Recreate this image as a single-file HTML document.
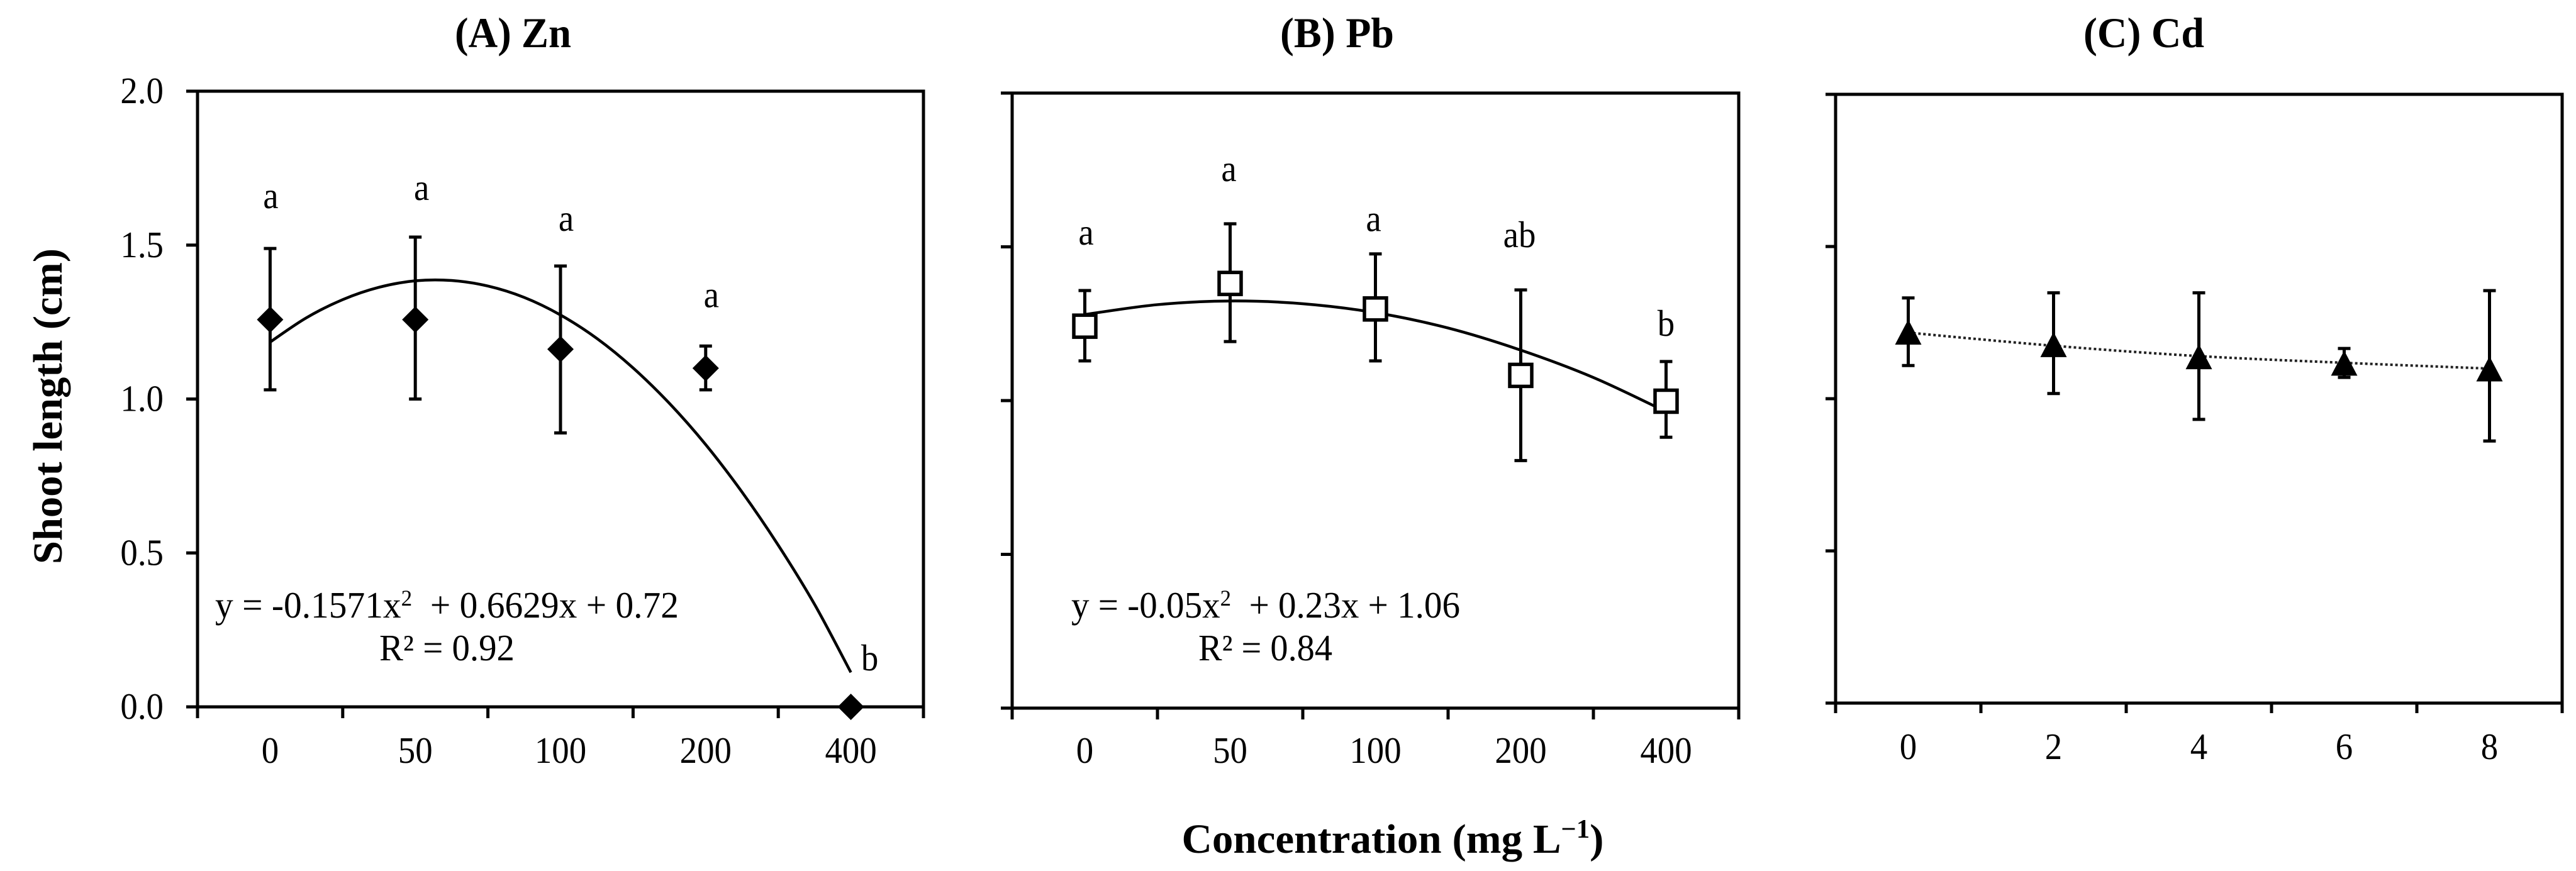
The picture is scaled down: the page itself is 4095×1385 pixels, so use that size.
<!DOCTYPE html>
<html lang="en">
<head>
<meta charset="utf-8">
<title>Shoot length vs concentration</title>
<style>
html,body{margin:0;padding:0;background:#fff;width:4095px;height:1385px;overflow:hidden}
svg{display:block}
text{font-family:"Liberation Serif","Times New Roman",serif;fill:#000}
.title{font-weight:bold;font-size:68px;text-anchor:middle}
.axt{font-weight:bold;font-size:66px;text-anchor:middle}
.tick{font-size:59px}
.note{font-size:59px}
</style>
</head>
<body>
<svg id="chart" xmlns="http://www.w3.org/2000/svg" width="4095" height="1385" viewBox="0 0 4095 1385">
  <rect x="0" y="0" width="4095" height="1385" fill="#fff"/>
  <text class="title" x="815.5" y="75" textLength="185" lengthAdjust="spacingAndGlyphs">(A) Zn</text>
  <text class="title" x="2125.5" y="75" textLength="181" lengthAdjust="spacingAndGlyphs">(B) Pb</text>
  <text class="title" x="3408" y="75" textLength="192" lengthAdjust="spacingAndGlyphs">(C) Cd</text>
  <text class="axt" transform="translate(98,646) rotate(-90)" textLength="502" lengthAdjust="spacingAndGlyphs">Shoot length (cm)</text>
  <text class="axt" x="2214" y="1356" textLength="671" lengthAdjust="spacingAndGlyphs">Concentration (mg L<tspan font-size="42" dy="-24">−1</tspan><tspan dy="24">)</tspan></text>
  <text class="note" x="342" y="982" textLength="737" lengthAdjust="spacingAndGlyphs">y = -0.1571x<tspan font-size="36" dy="-19">2</tspan><tspan dy="19">&#160;&#160;+ 0.6629x + 0.72</tspan></text>
  <text class="note" x="603" y="1050" textLength="215" lengthAdjust="spacingAndGlyphs">R² = 0.92</text>
  <text class="note" x="1703" y="982" textLength="618" lengthAdjust="spacingAndGlyphs">y = -0.05x<tspan font-size="36" dy="-19">2</tspan><tspan dy="19">&#160;&#160;+ 0.23x + 1.06</tspan></text>
  <text class="note" x="1905" y="1050" textLength="213" lengthAdjust="spacingAndGlyphs">R² = 0.84</text>
</svg>
<script>
// ---- data ----
const yTickValues = [0, 0.5, 1, 1.5, 2];
const yTickLabels = ['0.0', '0.5', '1.0', '1.5', '2.0'];

const znCategories = ['0', '50', '100', '200', '400'];
const znMeans = [1.258, 1.258, 1.162, 1.10, 0];
const znUpper = [1.489, 1.526, 1.432, 1.172, 0];
const znLower = [1.03, 1.0, 0.89, 1.03, 0];
const znLetters = ['a', 'a', 'a', 'a', 'b'];
const znFitPositions = [0, 0.25, 0.5, 0.75, 1, 1.25, 1.5, 1.75, 2, 2.25, 2.5, 2.75, 3, 3.25, 3.5, 3.75, 4];
const znFitValues = [1.185, 1.264, 1.323, 1.363, 1.384, 1.385, 1.367, 1.330, 1.273, 1.197, 1.101, 0.986, 0.852, 0.698, 0.525, 0.333, 0.112];

const pbCategories = ['0', '50', '100', '200', '400'];
const pbMeans = [1.242, 1.381, 1.298, 1.082, 0.998];
const pbUpper = [1.358, 1.575, 1.477, 1.36, 1.127];
const pbLower = [1.129, 1.192, 1.129, 0.805, 0.881];
const pbLetters = ['a', 'a', 'a', 'ab', 'b'];
const pbFitPositions = [0, 0.5, 1, 1.5, 2, 2.5, 3, 3.5, 4];
const pbFitValues = [1.28, 1.312, 1.324, 1.315, 1.286, 1.236, 1.164, 1.075, 0.964];

const cdCategories = ['0', '2', '4', '6', '8'];
const cdMeans = [1.217, 1.176, 1.136, 1.115, 1.096];
const cdUpper = [1.331, 1.348, 1.348, 1.165, 1.355];
const cdLower = [1.109, 1.017, 0.932, 1.07, 0.861];
const cdFitPositions = [0, 1, 2, 3, 4];
const cdFitValues = [1.217, 1.174, 1.14, 1.118, 1.099];

// ---- layout ----
const svg = document.getElementById('chart');
const NS = 'http://www.w3.org/2000/svg';
const GLYPH_SQUEEZE = 0.93;
const layoutA = {id: 'panel-a', left: 314, right: 1468, top: 145, bottom: 1124, tickLen: 18, xLabelY: 1213, showY: true,
  letterDx: [1, 10, 9, 9, 30], letterDy: [-64, -59, -56, -62, -58]};
const layoutB = {id: 'panel-b', left: 1609, right: 2764, top: 148, bottom: 1126, tickLen: 18, xLabelY: 1213, showY: false,
  letterDx: [2, -2, -3, -2, 0], letterDy: [-73, -68, -36, -68, -41]};
const layoutC = {id: 'panel-c', left: 2918, right: 4073, top: 150, bottom: 1118, tickLen: 16, xLabelY: 1207, showY: false};

function make(tag, attrs) {
  const n = document.createElementNS(NS, tag);
  for (const k in attrs) n.setAttribute(k, attrs[k]);
  svg.appendChild(n);
  return n;
}
function xScale(p, pos, count) { return p.left + (p.right - p.left) * (pos + 0.5) / count; }
function yScale(p, v) { return p.bottom - (p.bottom - p.top) * v / 2; }
function seg(x1, y1, x2, y2, w) {
  return make('line', {x1: x1, y1: y1, x2: x2, y2: y2, stroke: '#000', 'stroke-width': w});
}
function label(x, y, anchor, cls) {
  return make('text', {transform: 'translate(' + x + ',' + y + ') scale(' + GLYPH_SQUEEZE + ',1)', 'text-anchor': anchor, 'class': cls});
}
function smoothPath(pts) {
  let d = 'M' + pts[0][0] + ' ' + pts[0][1];
  for (let i = 0; i < pts.length - 1; i++) {
    const a = pts[Math.max(i - 1, 0)], b = pts[i], c = pts[i + 1], e = pts[Math.min(i + 2, pts.length - 1)];
    d += ' C' + (b[0] + (c[0] - a[0]) / 6) + ' ' + (b[1] + (c[1] - a[1]) / 6) + ' ' +
         (c[0] - (e[0] - b[0]) / 6) + ' ' + (c[1] - (e[1] - b[1]) / 6) + ' ' + c[0] + ' ' + c[1];
  }
  return d;
}
function drawAxes(p, cats) {
  const frame = make('rect', {x: p.left, y: p.top, width: p.right - p.left, height: p.bottom - p.top, fill: 'none', stroke: '#000', 'stroke-width': 5});
  
  
  yTickValues.forEach(function (v, i) {
    const y = yScale(p, v);
    const t = seg(p.left - p.tickLen, y, p.left, y, 5);
    
    
    if (p.showY) {
      const l = label(260, y + 19, 'end', 'tick');
      l.textContent = yTickLabels[i];
      
      
    }
  });
  for (let i = 0; i <= cats.length; i++) {
    const x = xScale(p, i - 0.5, cats.length);
    const t = seg(x, p.bottom, x, p.bottom + p.tickLen, 5);
    
    
  }
  cats.forEach(function (c, i) {
    const l = label(xScale(p, i, cats.length), p.xLabelY, 'middle', 'tick');
    l.textContent = c;
    
    
  });
}
function drawErrors(p, cats, upper, lower) {
  cats.forEach(function (c, i) {
    const x = xScale(p, i, cats.length), t = yScale(p, upper[i]), b = yScale(p, lower[i]);
    const bar = seg(x, t, x, b, 5);
    
    
    const capT = seg(x - 10, t, x + 10, t, 5);
    
    
    const capB = seg(x - 10, b, x + 10, b, 5);
    
    
  });
}
function drawFit(p, cats, positions, values, extra) {
  const pts = positions.map(function (pos, i) { return [xScale(p, pos, cats.length), yScale(p, values[i])]; });
  const attrs = {d: smoothPath(pts), fill: 'none', stroke: '#000', 'stroke-width': 4.5};
  for (const k in extra) attrs[k] = extra[k];
  const path = make('path', attrs);
  
  
}
function drawLetters(p, cats, upper, letters) {
  letters.forEach(function (s, i) {
    const l = label(xScale(p, i, cats.length) + p.letterDx[i], yScale(p, upper[i]) + p.letterDy[i], 'middle', 'note');
    l.textContent = s;
    
    
  });
}

// Panel A: Zn
drawAxes(layoutA, znCategories);
drawErrors(layoutA, znCategories, znUpper, znLower);
drawFit(layoutA, znCategories, znFitPositions, znFitValues, {});
znMeans.forEach(function (v, i) {
  const x = xScale(layoutA, i, znCategories.length), y = yScale(layoutA, v);
  const m = make('polygon', {points: [x, y - 21, x + 21, y, x, y + 21, x - 21, y].join(' '), fill: '#000'});
  
  
});
drawLetters(layoutA, znCategories, znUpper, znLetters);

// Panel B: Pb
drawAxes(layoutB, pbCategories);
drawErrors(layoutB, pbCategories, pbUpper, pbLower);
drawFit(layoutB, pbCategories, pbFitPositions, pbFitValues, {});
pbMeans.forEach(function (v, i) {
  const x = xScale(layoutB, i, pbCategories.length), y = yScale(layoutB, v);
  const m = make('rect', {x: x - 17.5, y: y - 17.5, width: 35, height: 35, fill: '#fff', stroke: '#000', 'stroke-width': 5.5});
  
  
});
drawLetters(layoutB, pbCategories, pbUpper, pbLetters);

// Panel C: Cd
drawAxes(layoutC, cdCategories);
drawErrors(layoutC, cdCategories, cdUpper, cdLower);
drawFit(layoutC, cdCategories, cdFitPositions, cdFitValues, {'stroke-dasharray': '4 4', 'stroke-width': 4, stroke: '#222'});
cdMeans.forEach(function (v, i) {
  const x = xScale(layoutC, i, cdCategories.length), y = yScale(layoutC, v);
  const m = make('polygon', {points: [x, y - 21, x + 21, y + 19, x - 21, y + 19].join(' '), fill: '#000'});
  
  
});
</script>
</body>
</html>
